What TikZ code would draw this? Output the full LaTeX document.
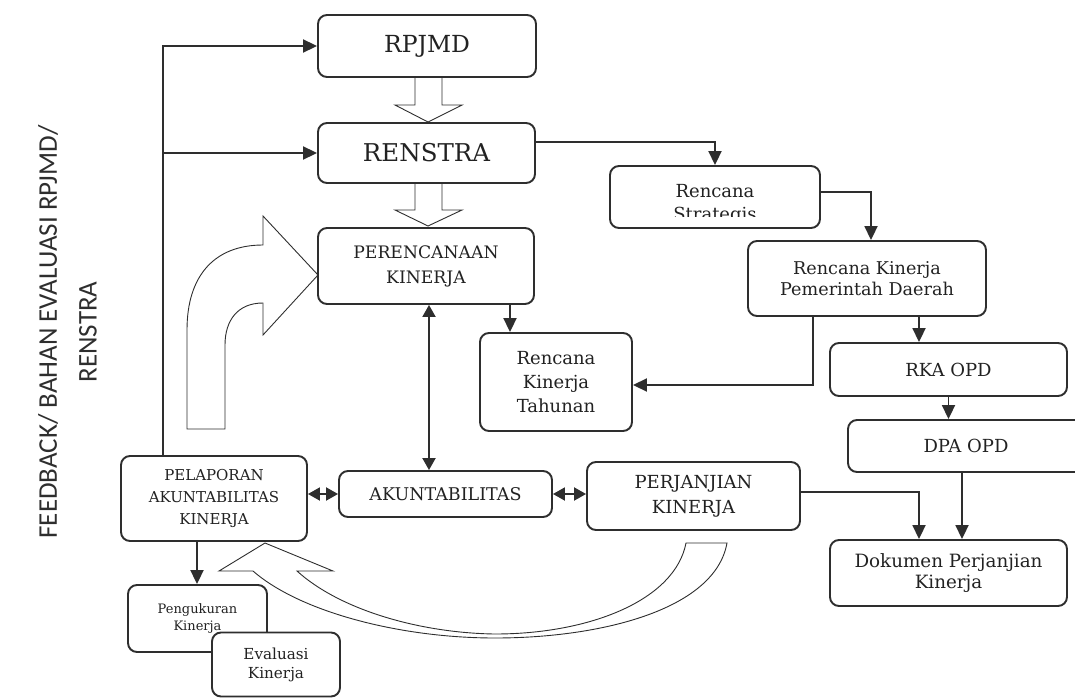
\documentclass[tikz,border=0pt]{standalone}
\usepackage{fontspec}
\setmainfont{DejaVu Serif}
\newfontfamily\sidefont{Carlito}
\usetikzlibrary{arrows.meta,calc}
\definecolor{ink}{HTML}{2E2E2E}
\definecolor{txt}{HTML}{222222}
\newcommand{\fsz}[2]{\fontsize{#1}{#2}\selectfont}
\begin{document}
\begin{tikzpicture}[x=1pt,y=-1pt,
  box/.style={draw=ink, line width=1.9pt, rounded corners=9pt, fill=white, align=center, text=txt, inner sep=0pt},
  conn/.style={draw=ink, line width=1.9pt, -{Triangle[length=14pt,width=13pt]}},
  dconn/.style={draw=ink, line width=1.9pt, {Triangle[length=12pt,width=13pt]}-{Triangle[length=12pt,width=13pt]}},
  hollow/.style={draw=ink, line width=0.9pt, fill=white, line join=miter},
  sidetext/.style={text=ink, rotate=90, font=\sidefont\fsz{27}{32}},
]
\useasboundingbox (0,0) rectangle (1075,698);

% side label
\node[sidetext] (fb1) at (48,332) {FEEDBACK/ BAHAN EVALUASI RPJMD/};
\node[sidetext] (fb2) at (88,332) {RENSTRA};

% hollow arrows
\draw[hollow] (415,77) -- (415,105) -- (395,105) -- (428,122) -- (462,105) -- (442,105) -- (442,77);
\draw[hollow] (415,183) -- (415,210) -- (395,210) -- (428,226) -- (462,210) -- (442,210) -- (442,183);
% big curved arrow
\draw[hollow] (187,429) -- (187,330) .. controls (187,275) and (215,245) .. (263,245)
  -- (263,216) -- (318,275) -- (263,335) -- (263,303)
  .. controls (238,303) and (225,320) .. (225,345) -- (225,429) -- cycle;
% bottom crescent arrow
\draw[hollow] (265,543) -- (333,571) -- (297,571)
  .. controls (340,610) and (420,633) .. (495,634)
  .. controls (590,634) and (675,600) .. (686,543)
  -- (727,543)
  .. controls (715,610) and (600,638) .. (495,638)
  .. controls (400,638) and (300,612) .. (253,571)
  -- (219,571) -- cycle;

% boxes
\node[box, minimum width=218pt, minimum height=62pt, font=\fsz{23.5}{27}] (rpjmd) at (427,46) {RPJMD};
\node[box, minimum width=217pt, minimum height=60pt, font=\fsz{24.5}{28}] (renstra) at (426.5,153) {RENSTRA};
\node[box, minimum width=216pt, minimum height=76pt, font=\fsz{17.2}{25}] (peren) at (426,266) {PERENCANAAN\\KINERJA};
\node[box, minimum width=210pt, minimum height=62pt] (rstrat) at (715,197) {};
\begin{scope}
  \clip (rstrat.north west) rectangle ([yshift=12pt]rstrat.south east);
  \node[text=txt, align=center, inner sep=0pt, font=\fsz{18}{23}] (rstrattext) at (715,204) {Rencana\\Strategis};
\end{scope}
\node[box, minimum width=238pt, minimum height=75pt, font=\fsz{17.6}{21.5}] (rkpd) at (867,278.5) {Rencana Kinerja\\Pemerintah Daerah};
\node[box, minimum width=152pt, minimum height=98pt, font=\fsz{18}{24}] (rkt) at (556,382) {Rencana\\Kinerja\\Tahunan};
\node[box, minimum width=237pt, minimum height=53pt, font=\fsz{18}{21}] (rka) at (948.5,369.5) {RKA OPD};
\node[box, minimum width=236pt, minimum height=52pt, font=\fsz{18}{21}] (dpa) at (966,446) {DPA OPD};
\node[box, minimum width=237pt, minimum height=66pt, font=\fsz{18.3}{21.5}] (dok) at (948.5,573) {Dokumen Perjanjian\\Kinerja};
\node[box, minimum width=213pt, minimum height=68pt, font=\fsz{18}{25}] (perj) at (693.5,496) {PERJANJIAN\\KINERJA};
\node[box, minimum width=213pt, minimum height=46pt, font=\fsz{17.5}{20}] (akun) at (445.5,494) {AKUNTABILITAS};
\node[box, minimum width=186pt, minimum height=85pt, font=\fsz{15}{22}] (pel) at (214,498.5) {PELAPORAN\\AKUNTABILITAS\\KINERJA};
\node[box, minimum width=139pt, minimum height=67pt, font=\fsz{13}{17}] (peng) at (197.5,618.5) {Pengukuran\\Kinerja};
\node[box, minimum width=128pt, minimum height=64pt, font=\fsz{15.2}{19}] (eval) at (276,664.5) {Evaluasi\\Kinerja};

% connectors
\draw[conn] ([xshift=-51pt]pel.north) |- (rpjmd.west);
\draw[conn] ([xshift=-51pt]pel.north |- renstra.west) -- (renstra.west);
\draw[conn] ([yshift=11pt]renstra.east) -| (rstrat.north);
\draw[conn] ([yshift=5pt]rstrat.east) -| ([xshift=4pt]rkpd.north);
\draw[conn] ([xshift=52pt]rkpd.south) -- ([xshift=52pt]rkpd.south |- rka.north);
\draw[conn] ([xshift=-54pt]rkpd.south) |- ([yshift=-3pt]rkt.east);
\draw[conn] ([xshift=-46pt]rkt.north |- peren.south) -- ([xshift=-46pt]rkt.north);
\draw[conn] (rka.south) -- (rka.south |- dpa.north);
\draw[conn] ([xshift=-4pt]dpa.south) -- ([xshift=-4pt]dpa.south |- dok.north);
\draw[conn] ([yshift=4pt]perj.east) -| ([xshift=-29.5pt]dok.north);
\draw[dconn] ([xshift=3pt]peren.south) -- ([xshift=3pt]peren.south |- akun.north);
\draw[dconn] (akun.west -| pel.east) -- (akun.west);
\draw[dconn] (akun.east) -- (akun.east -| perj.west);
\draw[conn] ([xshift=-17pt]pel.south) -- ([xshift=-17pt]pel.south |- peng.north);
\end{tikzpicture}
\end{document}
